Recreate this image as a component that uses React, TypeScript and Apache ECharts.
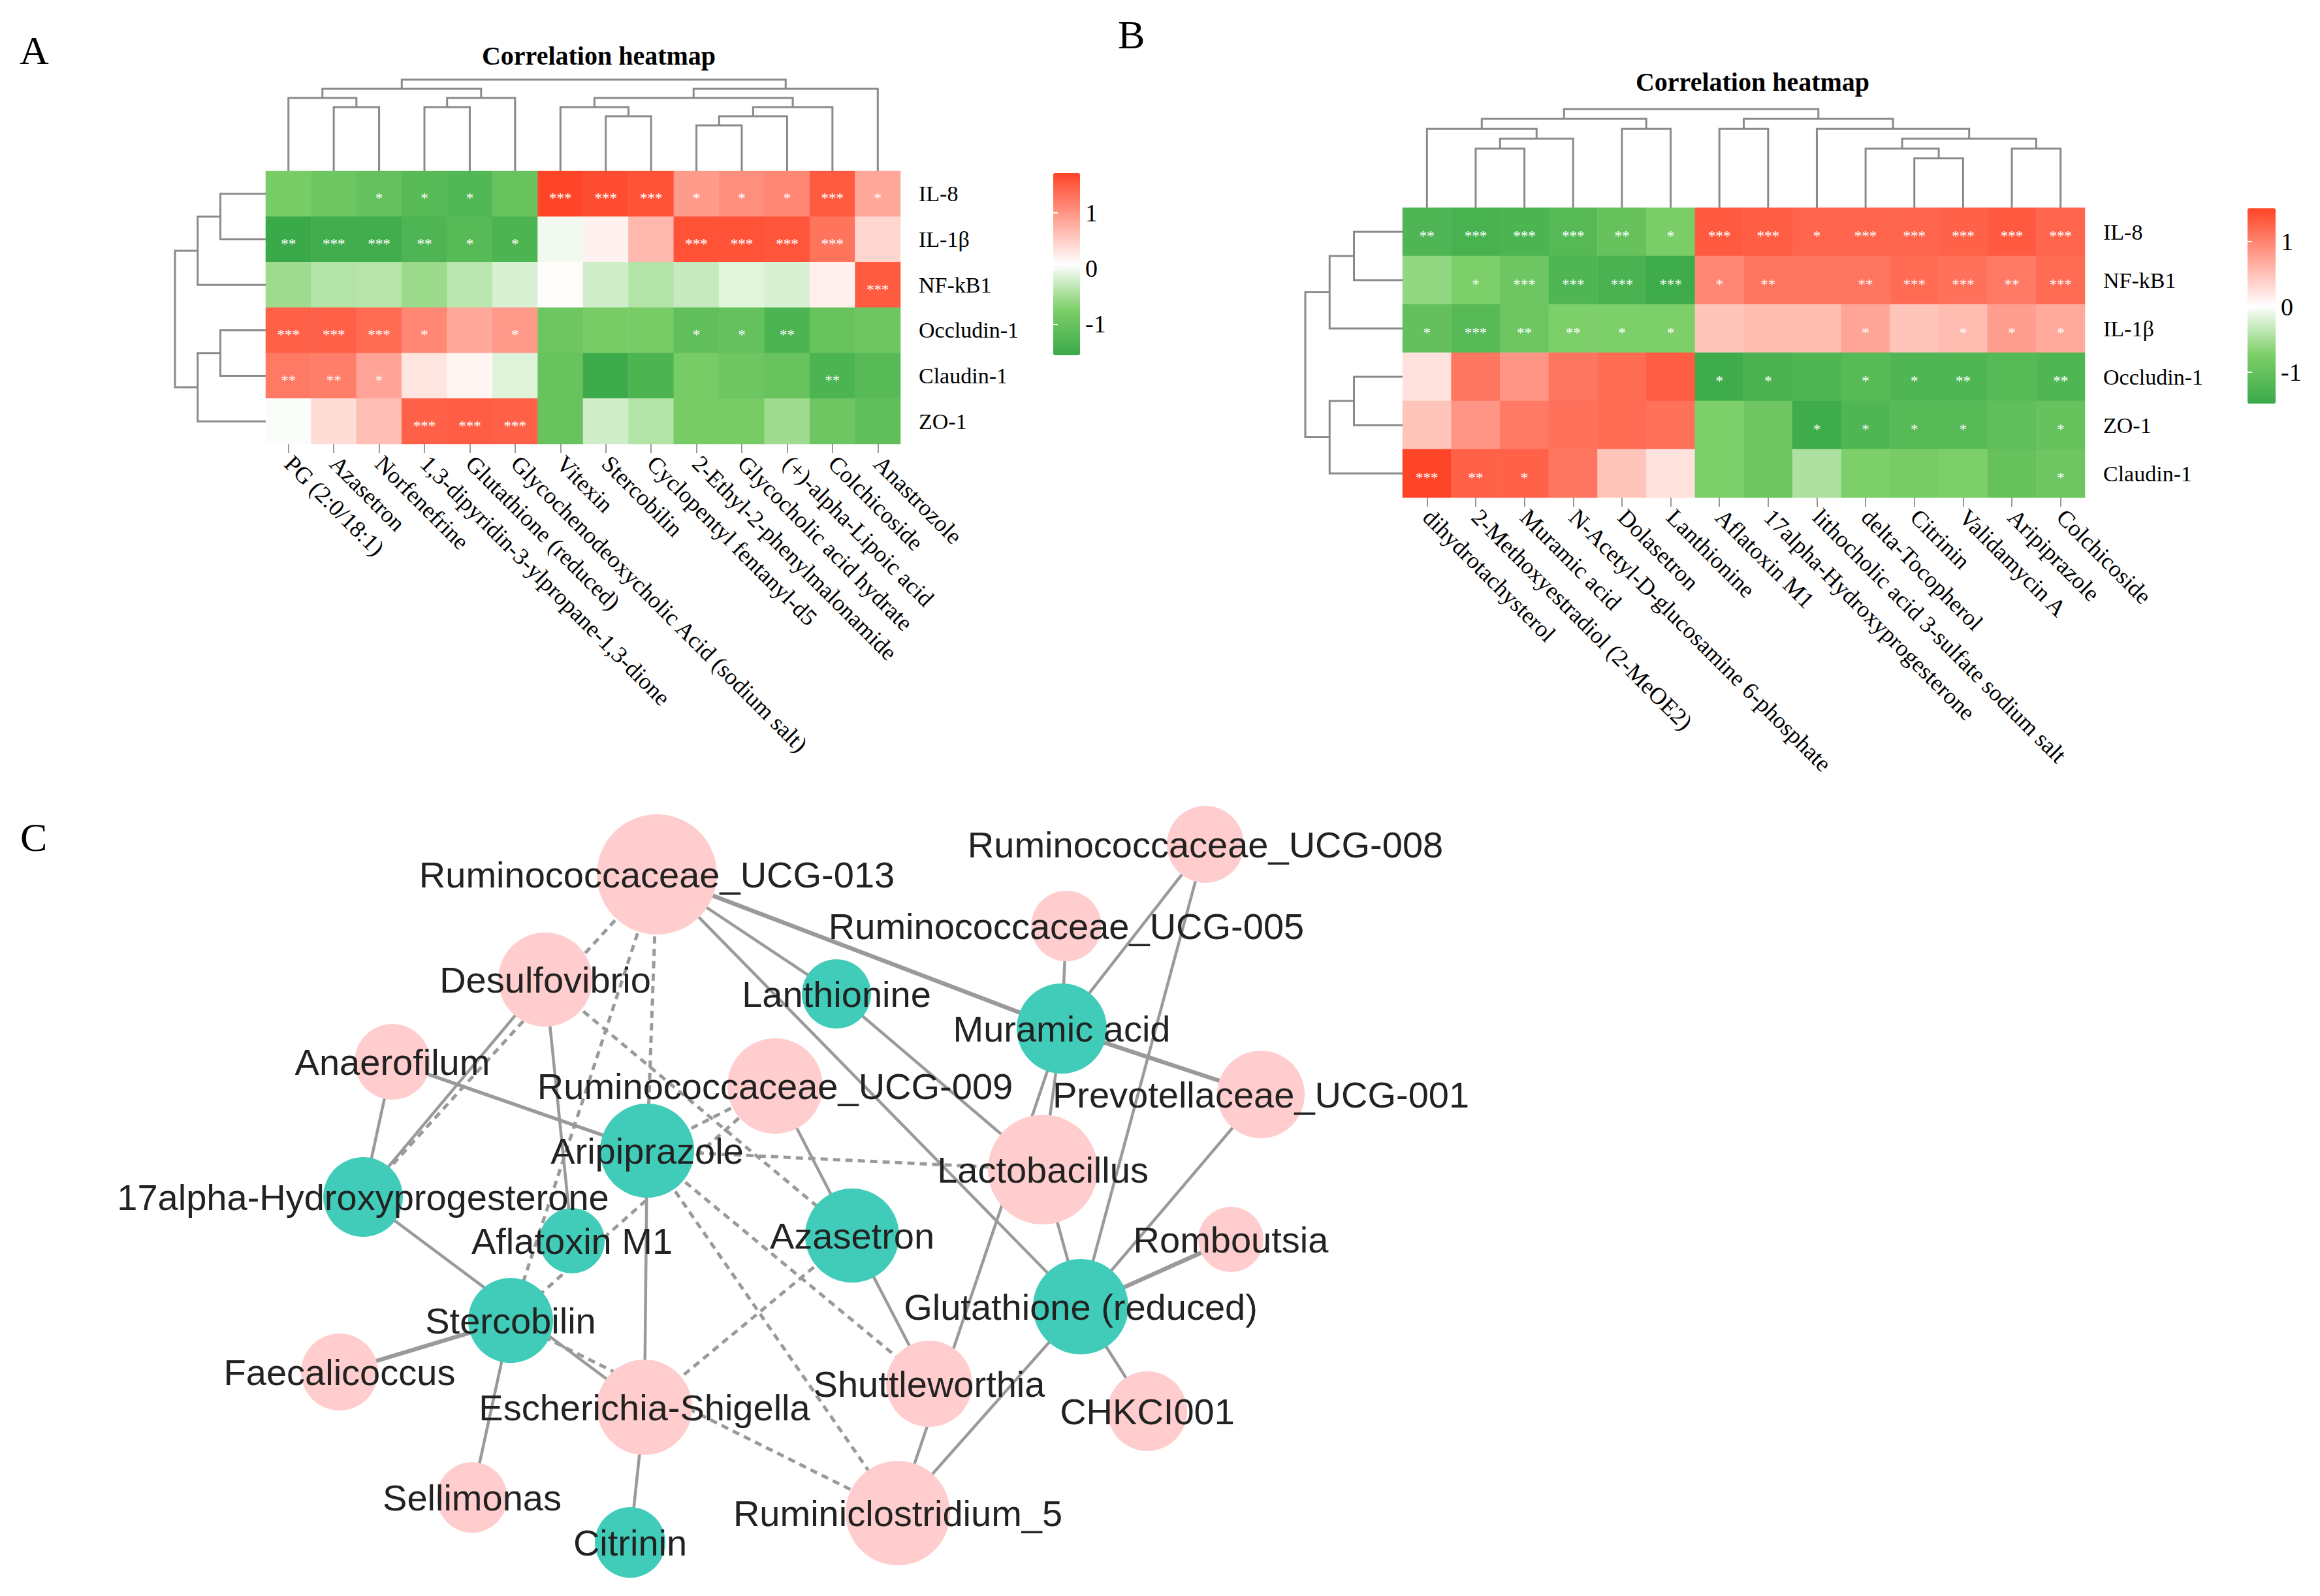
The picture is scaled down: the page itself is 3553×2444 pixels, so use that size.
import React, { useEffect, useRef } from 'react';
import * as echarts from 'echarts';

// ---------------- Panel A data ----------------
const rowsA = ['IL-8', 'IL-1β', 'NF-kB1', 'Occludin-1', 'Claudin-1', 'ZO-1'];
const colsA = [
  'PG (2:0/18:1)', 'Azasetron', 'Norfenefrine', '1,3-dipyridin-3-ylpropane-1,3-dione',
  'Glutathione (reduced)', 'Glycochenodeoxycholic Acid (sodium salt)', 'Vitexin', 'Stercobilin',
  'Cyclopentyl fentanyl-d5', '2-Ethyl-2-phenylmalonamide', 'Glycocholic acid hydrate',
  '(+)-alpha-Lipoic acid', 'Colchicoside', 'Anastrozole',
];
const valuesA = [
  [-0.81, -0.94, -1.05, -1.2, -1.28, -1.0, 1.71, 1.64, 1.6, 0.95, 1.06, 1.13, 1.52, 0.84],
  [-1.56, -1.48, -1.47, -1.3, -1.2, -1.33, 0.0, 0.2, 0.7, 1.6, 1.6, 1.56, 1.3, 0.44],
  [-0.53, -0.4, -0.38, -0.55, -0.35, -0.16, 0.1, -0.22, -0.4, -0.28, -0.11, -0.16, 0.21, 1.52],
  [1.46, 1.46, 1.38, 1.13, 0.84, 0.96, -0.94, -0.81, -0.81, -1.1, -1.05, -1.33, -1.0, -0.94],
  [1.24, 1.21, 0.87, 0.31, 0.16, -0.12, -1.0, -1.52, -1.33, -0.81, -0.94, -1.0, -1.33, -1.2],
  [0.05, 0.38, 0.65, 1.46, 1.49, 1.46, -1.0, -0.22, -0.4, -0.81, -0.81, -0.53, -0.94, -1.1],
];
const starsA = [
  ['', '', '*', '*', '*', '', '***', '***', '***', '*', '*', '*', '***', '*'],
  ['**', '***', '***', '**', '*', '*', '', '', '', '***', '***', '***', '***', ''],
  ['', '', '', '', '', '', '', '', '', '', '', '', '', '***'],
  ['***', '***', '***', '*', '', '*', '', '', '', '*', '*', '**', '', ''],
  ['**', '**', '*', '', '', '', '', '', '', '', '', '', '**', ''],
  ['', '', '', '***', '***', '***', '', '', '', '', '', '', '', ''],
];
// hclust-style merges: negative = leaf (-1 -> leaf 0), positive = earlier merge (1-based)
const colMergeA = [
  [-2, -3, 7], [-1, 1, 8], [-4, -5, 7], [3, -6, 8], [2, 4, 9],
  [-8, -9, 6], [-7, 6, 7], [-10, -11, 5], [8, -12, 6], [9, -13, 7],
  [7, 10, 8], [11, -14, 9], [5, 12, 10],
];
const rowMergeA = [[-1, -2, 2], [1, -3, 3], [-4, -5, 2], [3, -6, 3], [2, 4, 4]];
const rangeA = [-1.56, 1.72];

// ---------------- Panel B data ----------------
const rowsB = ['IL-8', 'NF-kB1', 'IL-1β', 'Occludin-1', 'ZO-1', 'Claudin-1'];
const colsB = [
  'dihydrotachysterol', '2-Methoxyestradiol (2-MeOE2)', 'Muramic acid',
  'N-Acetyl-D-glucosamine 6-phosphate', 'Dolasetron', 'Lanthionine', 'Aflatoxin M1',
  '17alpha-Hydroxyprogesterone', 'lithocholic acid 3-sulfate sodium salt', 'delta-Tocopherol',
  'Citrinin', 'Validamycin A', 'Aripiprazole', 'Colchicoside',
];
const valuesB = [
  [-1.24, -1.32, -1.27, -1.17, -0.98, -0.75, 1.33, 1.3, 1.25, 1.25, 1.25, 1.27, 1.33, 1.25],
  [-0.61, -0.73, -0.91, -1.23, -1.3, -1.42, 0.97, 1.11, 1.11, 1.11, 1.2, 1.15, 1.08, 1.2],
  [-1.02, -1.15, -0.91, -0.73, -0.73, -0.73, 0.48, 0.54, 0.54, 0.73, 0.48, 0.54, 0.79, 0.69],
  [0.25, 1.11, 0.85, 1.11, 1.2, 1.3, -1.42, -1.3, -1.23, -1.15, -1.23, -1.23, -1.15, -1.23],
  [0.48, 0.85, 1.08, 1.15, 1.2, 1.15, -0.73, -0.91, -1.42, -1.23, -1.15, -1.15, -1.06, -0.98],
  [1.5, 1.27, 1.27, 1.11, 0.48, 0.25, -0.73, -0.91, -0.45, -0.73, -0.8, -0.73, -0.98, -0.91],
];
const starsB = [
  ['**', '***', '***', '***', '**', '*', '***', '***', '*', '***', '***', '***', '***', '***'],
  ['', '*', '***', '***', '***', '***', '*', '**', '', '**', '***', '***', '**', '***'],
  ['*', '***', '**', '**', '*', '*', '', '', '', '*', '', '*', '*', '*'],
  ['', '', '', '', '', '', '*', '*', '', '*', '*', '**', '', '**'],
  ['', '', '', '', '', '', '', '', '*', '*', '*', '*', '', '*'],
  ['***', '**', '*', '', '', '', '', '', '', '', '', '', '', '*'],
];
const colMergeB = [
  [-2, -3, 6], [1, -4, 7], [-1, 2, 8], [-5, -6, 8], [3, 4, 9],
  [-7, -8, 8], [-11, -12, 5], [-10, 7, 6], [-13, -14, 6], [8, 9, 7],
  [-9, 10, 8], [6, 11, 9], [5, 12, 10],
];
const rowMergeB = [[-1, -2, 2], [1, -3, 3], [-4, -5, 2], [3, -6, 3], [2, 4, 4]];
const rangeB = [-1.48, 1.51];
const colorbarTicks = [-1, 0, 1];

// ---------------- Panel C data ----------------
const nodeNames = [
  'Ruminococcaceae_UCG-013', 'Desulfovibrio', 'Anaerofilum', 'Aripiprazole',
  'Ruminococcaceae_UCG-009', 'Lanthionine', 'Muramic acid', 'Ruminococcaceae_UCG-005',
  'Ruminococcaceae_UCG-008', 'Prevotellaceae_UCG-001', 'Lactobacillus', 'Azasetron',
  'Glutathione (reduced)', 'Romboutsia', 'Shuttleworthia', 'CHKCI001',
  'Ruminiclostridium_5', 'Escherichia-Shigella', '17alpha-Hydroxyprogesterone',
  'Aflatoxin M1', 'Stercobilin', 'Faecalicoccus', 'Sellimonas', 'Citrinin',
];
const nodeX = [1006, 835, 601, 991, 1187, 1281, 1626, 1633, 1846, 1931, 1597, 1305, 1655, 1885, 1423, 1757, 1375, 987, 556, 876, 782, 520, 723, 965];
const nodeY = [1339, 1500, 1626, 1762, 1663, 1522, 1575, 1418, 1293, 1676, 1791, 1892, 2001, 1898, 2119, 2161, 2317, 2155, 1833, 1900, 2022, 2101, 2293, 2362];
const nodeSize = [184, 144, 116, 144, 146, 106, 138, 108, 118, 134, 168, 144, 146, 100, 132, 122, 160, 146, 122, 100, 130, 118, 108, 108];
// 'b' = bacteria (pink), 'm' = metabolite (teal)
const nodeKind = ['b', 'b', 'b', 'm', 'b', 'm', 'm', 'b', 'b', 'b', 'b', 'm', 'm', 'b', 'b', 'b', 'b', 'b', 'm', 'm', 'm', 'b', 'b', 'm'];
const solidLinks = [
  ['Ruminococcaceae_UCG-013', 'Muramic acid', 6.5],
  ['Muramic acid', 'Prevotellaceae_UCG-001', 6.5],
  ['Ruminococcaceae_UCG-013', 'Lanthionine', 4.5],
  ['Lanthionine', 'Lactobacillus', 4.5],
  ['Ruminococcaceae_UCG-013', 'Glutathione (reduced)', 4.5],
  ['Muramic acid', 'Ruminococcaceae_UCG-005', 4.5],
  ['Muramic acid', 'Ruminococcaceae_UCG-008', 4.5],
  ['Muramic acid', 'Lactobacillus', 4.5],
  ['Muramic acid', 'Ruminiclostridium_5', 4.5],
  ['Ruminococcaceae_UCG-008', 'Glutathione (reduced)', 4.5],
  ['Prevotellaceae_UCG-001', 'Glutathione (reduced)', 4.5],
  ['Lactobacillus', 'Glutathione (reduced)', 4.5],
  ['Romboutsia', 'Glutathione (reduced)', 6.5],
  ['CHKCI001', 'Glutathione (reduced)', 4.5],
  ['Ruminiclostridium_5', 'Glutathione (reduced)', 4.5],
  ['Ruminococcaceae_UCG-009', 'Azasetron', 4.5],
  ['Azasetron', 'Shuttleworthia', 4.5],
  ['Desulfovibrio', '17alpha-Hydroxyprogesterone', 4.5],
  ['Desulfovibrio', 'Aflatoxin M1', 4.5],
  ['Anaerofilum', '17alpha-Hydroxyprogesterone', 4.5],
  ['Anaerofilum', 'Aripiprazole', 5.5],
  ['Aripiprazole', 'Escherichia-Shigella', 4.5],
  ['17alpha-Hydroxyprogesterone', 'Escherichia-Shigella', 4.5],
  ['Stercobilin', 'Faecalicoccus', 6.5],
  ['Stercobilin', 'Sellimonas', 4.5],
  ['Escherichia-Shigella', 'Citrinin', 4.5],
];
const dashedLinks = [
  ['Ruminococcaceae_UCG-013', '17alpha-Hydroxyprogesterone'],
  ['Ruminococcaceae_UCG-013', 'Aripiprazole'],
  ['Ruminococcaceae_UCG-013', 'Stercobilin'],
  ['Desulfovibrio', 'Azasetron'],
  ['Aripiprazole', 'Ruminococcaceae_UCG-009'],
  ['Aripiprazole', 'Lactobacillus'],
  ['Aripiprazole', 'Shuttleworthia'],
  ['Aripiprazole', 'Ruminiclostridium_5'],
  ['Azasetron', 'Escherichia-Shigella'],
  ['Stercobilin', 'Ruminococcaceae_UCG-009'],
  ['Stercobilin', 'Ruminiclostridium_5'],
];

const PALETTE = ['#3aa94a', '#7dcf68', '#ffffff', '#ffa192', '#ff4426'];
const SERIF = 'Liberation Serif';
const SANS = 'Liberation Sans';
const DEND = '#8a8a8a';

function dendro(merges: number[][]) {
  const pos: number[] = [];
  const hgt: number[] = [];
  const get = (k: number) => (k < 0 ? [-k - 1, 0] : [pos[k - 1], hgt[k - 1]]);
  return merges.map(([a, b, h], i) => {
    const [pa, ha] = get(a);
    const [pb, hb] = get(b);
    pos[i] = (pa + pb) / 2;
    hgt[i] = h;
    return [pa, ha, pb, hb, h];
  });
}

function heatData(values: number[][]) {
  const out: number[][] = [];
  values.forEach((row, r) => row.forEach((v, c) => out.push([c, r, v])));
  return out;
}

function dendroSeries(merges: number[][], orient: 'top' | 'left', xi: number, yi: number) {
  const segs = dendro(merges);
  const data = orient === 'top' ? segs : segs.map(([pa, ha, pb, hb, h]) => [ha, pa, hb, pb, h]);
  return {
    type: 'custom',
    xAxisIndex: xi,
    yAxisIndex: yi,
    silent: true,
    clip: false,
    data,
    renderItem: (_p: any, api: any) => {
      const v = [0, 1, 2, 3, 4].map((i) => api.value(i));
      let pts;
      if (orient === 'top') {
        pts = [api.coord([v[0], v[1]]), api.coord([v[0], v[4]]), api.coord([v[2], v[4]]), api.coord([v[2], v[3]])];
      } else {
        pts = [api.coord([v[0], v[1]]), api.coord([v[4], v[1]]), api.coord([v[4], v[3]]), api.coord([v[2], v[3]])];
      }
      return { type: 'polyline', shape: { points: pts }, style: { stroke: DEND, lineWidth: 3, fill: null } };
    },
  };
}

function heatAxes(cols: string[], rows: string[], gi: number) {
  const x = {
    type: 'category', gridIndex: gi, data: cols, position: 'bottom',
    axisLine: { show: false },
    axisTick: { show: true, alignWithLabel: true, length: 14, lineStyle: { color: '#999', width: 2 } },
    axisLabel: { interval: 0, rotate: -45, margin: 24, fontFamily: SERIF, fontSize: 36, color: '#000' },
    splitLine: { show: false },
  };
  const y = {
    type: 'category', gridIndex: gi, data: rows, position: 'right', inverse: true,
    axisLine: { show: false }, axisTick: { show: false },
    axisLabel: { margin: 28, fontFamily: SERIF, fontSize: 34, color: '#000' },
    splitLine: { show: false },
  };
  return [x, y];
}

function cbAxes(gi: number, range: number[]) {
  const common = {
    type: 'value', gridIndex: gi, min: range[0], max: range[1], z: 10,
    axisLine: { show: false }, splitLine: { show: false },
    axisTick: { show: true, inside: true, length: 7, lineStyle: { color: '#fff', width: 2 }, customValues: colorbarTicks },
  };
  return [
    { ...common, position: 'right', axisLabel: { show: true, customValues: colorbarTicks, margin: 8, fontFamily: SERIF, fontSize: 38, color: '#000' } },
    { ...common, position: 'left', axisLabel: { show: false } },
  ];
}

function heatSeries(values: number[][], stars: string[][], xi: number, yi: number, dy: number) {
  return {
    type: 'heatmap', xAxisIndex: xi, yAxisIndex: yi,
    data: heatData(values),
    emphasis: { disabled: true },
    label: {
      show: true, color: '#fff', fontFamily: SERIF, fontSize: 23, offset: [0, dy],
      formatter: (p: any) => stars[p.data[1]][p.data[0]],
    },
  };
}

export default function App() {
  const ref = useRef<HTMLDivElement>(null);
  useEffect(() => {
    if (!ref.current) return;
    const chart = echarts.init(ref.current, undefined, { renderer: 'svg' });
    const [hxA, hyA] = heatAxes(colsA, rowsA, 0);
    const [hxB, hyB] = heatAxes(colsB, rowsB, 4);
    const [cbArY, cbAlY] = cbAxes(3, rangeA);
    const [cbBrY, cbBlY] = cbAxes(7, rangeB);
    const hidden = { show: false, splitLine: { show: false } };

    const nodes = nodeNames.map((n, i) => ({
      name: n,
      value: [nodeX[i], nodeY[i]],
      symbolSize: nodeSize[i],
      itemStyle: { color: nodeKind[i] === 'b' ? '#ffcdcd' : '#40ccb9' },
    }));
    const links = [
      ...solidLinks.map(([s, t, w]) => ({ source: s, target: t, lineStyle: { type: 'solid', width: w as number, color: '#9a9a9a', opacity: 1 } })),
      ...dashedLinks.map(([s, t]) => ({ source: s, target: t, lineStyle: { type: [11, 8], width: 5, color: '#9a9a9a', opacity: 1 } })),
    ];

    const option: any = {
      animation: false,
      backgroundColor: '#ffffff',
      grid: [
        { left: 407, top: 262, width: 972, height: 418 },
        { left: 407, top: 122, width: 972, height: 140 },
        { left: 268, top: 262, width: 139, height: 418 },
        { left: 1613, top: 265, width: 41, height: 279 },
        { left: 2148, top: 318, width: 1045, height: 444 },
        { left: 2148, top: 167, width: 1045, height: 151 },
        { left: 1999, top: 318, width: 149, height: 444 },
        { left: 3442, top: 319, width: 43, height: 299 },
        { left: 0, top: 1200, width: 2400, height: 1244 },
      ],
      xAxis: [
        hxA,
        { type: 'value', gridIndex: 1, min: -0.5, max: 13.5, ...hidden },
        { type: 'value', gridIndex: 2, min: 0, max: 4, inverse: true, ...hidden },
        { type: 'value', gridIndex: 3, min: 0, max: 1, ...hidden },
        hxB,
        { type: 'value', gridIndex: 5, min: -0.5, max: 13.5, ...hidden },
        { type: 'value', gridIndex: 6, min: 0, max: 4, inverse: true, ...hidden },
        { type: 'value', gridIndex: 7, min: 0, max: 1, ...hidden },
        { type: 'value', gridIndex: 8, min: 0, max: 2400, ...hidden },
      ],
      yAxis: [
        hyA,
        { type: 'value', gridIndex: 1, min: 0, max: 10, ...hidden },
        { type: 'value', gridIndex: 2, min: -0.5, max: 5.5, inverse: true, ...hidden },
        cbArY, cbAlY,
        hyB,
        { type: 'value', gridIndex: 5, min: 0, max: 10, ...hidden },
        { type: 'value', gridIndex: 6, min: -0.5, max: 5.5, inverse: true, ...hidden },
        cbBrY, cbBlY,
        { type: 'value', gridIndex: 8, min: 1200, max: 2444, inverse: true, ...hidden },
      ],
      visualMap: [
        {
          type: 'continuous', seriesIndex: 0, dimension: 2, min: rangeA[0], max: rangeA[1],
          inRange: { color: PALETTE }, left: 1613, top: 265, itemWidth: 41, itemHeight: 279,
          padding: 0, calculable: false, hoverLink: false, orient: 'vertical',
        },
        {
          type: 'continuous', seriesIndex: 3, dimension: 2, min: rangeB[0], max: rangeB[1],
          inRange: { color: PALETTE }, left: 3442, top: 319, itemWidth: 43, itemHeight: 299,
          padding: 0, calculable: false, hoverLink: false, orient: 'vertical',
        },
      ],
      series: [
        heatSeries(valuesA, starsA, 0, 0, 7),
        dendroSeries(colMergeA, 'top', 1, 1),
        dendroSeries(rowMergeA, 'left', 2, 2),
        heatSeries(valuesB, starsB, 4, 5, 6),
        dendroSeries(colMergeB, 'top', 5, 6),
        dendroSeries(rowMergeB, 'left', 6, 7),
        {
          type: 'graph', coordinateSystem: 'cartesian2d', xAxisIndex: 8, yAxisIndex: 10,
          data: nodes, links, roam: false, silent: true,
          emphasis: { disabled: true },
          label: { show: true, position: 'inside', fontFamily: SANS, fontSize: 56, color: '#222' },
          lineStyle: { curveness: 0 },
        },
      ],
      graphic: [
        { type: 'text', x: 30, y: 77, style: { text: 'A', font: '62px "Liberation Serif"', fill: '#000', verticalAlign: 'middle' } },
        { type: 'text', x: 1712, y: 53, style: { text: 'B', font: '62px "Liberation Serif"', fill: '#000', verticalAlign: 'middle' } },
        { type: 'text', x: 31, y: 1282, style: { text: 'C', font: '62px "Liberation Serif"', fill: '#000', verticalAlign: 'middle' } },
        { type: 'text', x: 917, y: 85, style: { text: 'Correlation heatmap', font: 'bold 40px "Liberation Serif"', fill: '#000', align: 'center', verticalAlign: 'middle' } },
        { type: 'text', x: 2684, y: 125, style: { text: 'Correlation heatmap', font: 'bold 40px "Liberation Serif"', fill: '#000', align: 'center', verticalAlign: 'middle' } },
      ],
    };
    chart.setOption(option);
    return () => chart.dispose();
  }, []);
  return <div ref={ref} style={{ position: 'absolute', left: 0, top: 0, width: 3553, height: 2444 }} />;
}
